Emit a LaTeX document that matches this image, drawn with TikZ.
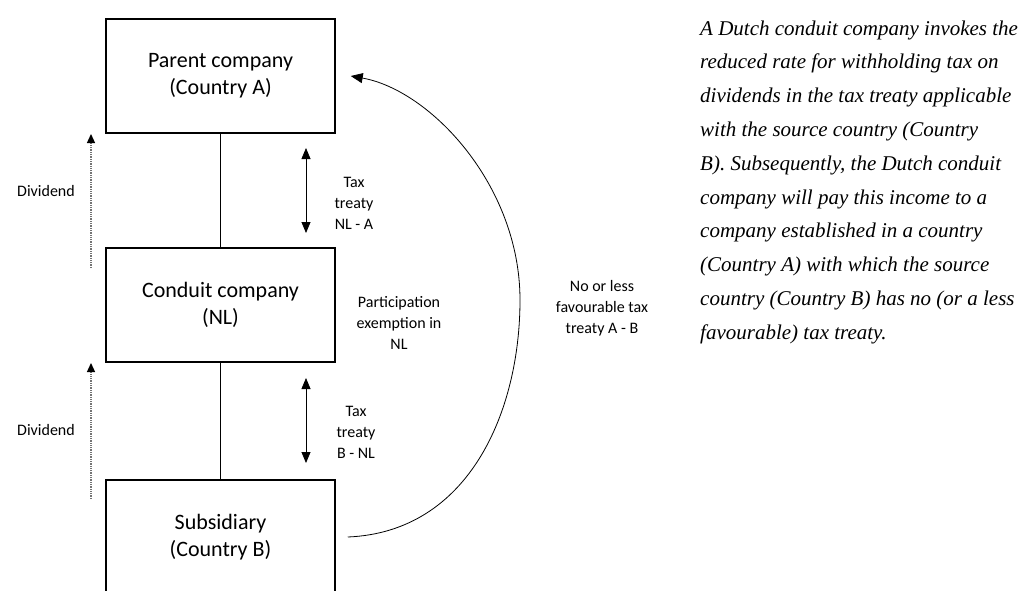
\documentclass[tikz,border=0pt]{standalone}
\usepackage{fontspec}
\setmainfont{Carlito}
\newfontfamily\notefont{Liberation Serif}
\usetikzlibrary{arrows.meta}
\begin{document}
\begin{tikzpicture}[x=1pt,y=-1pt,
  entity/.style={draw,line width=1.5pt,minimum width=229pt,minimum height=114pt,
    align=center,inner sep=0pt,font=\fontsize{22}{27}\selectfont},
  smalltext/.style={align=center,inner sep=0pt,font=\fontsize{16}{21}\selectfont},
  link/.style={line width=0.8pt},
  treaty/.style={line width=0.8pt,{Triangle[length=11pt,width=9pt]}-{Triangle[length=11pt,width=9pt]}},
  flow/.style={draw=black!55,densely dotted,line width=1.3pt,-{Triangle[length=9pt,width=8pt,color=black]}},
  detour/.style={line width=0.8pt,-{Triangle[length=12pt,width=10pt]}}
]
\useasboundingbox (0,0) rectangle (1021,590);
\clip (0,0) rectangle (1021,590);

% the three companies in the chain
\node[entity] (parent)  at (220.5,76)  {Parent company\\(Country A)};
\node[entity] (conduit) at (220.5,305) {Conduit company\\(NL)};
\node[entity] (sub)     at (220.5,537) {Subsidiary\\(Country B)};

% ownership links
\draw[link] (parent) -- (conduit);
\draw[link] (conduit) -- (sub);

% treaty arrows between neighbouring companies
\coordinate (ta1) at (306,148);
\coordinate (ta2) at (306,233);
\coordinate (tb1) at (306,378);
\coordinate (tb2) at (306,463);
\draw[treaty] (ta1) -- (ta2);
\draw[treaty] (tb1) -- (tb2);
\node[smalltext] (tt1) at (354,203) {Tax\\treaty\\NL - A};
\node[smalltext] (tt2) at (356,432) {Tax\\treaty\\B - NL};

% dividend flows
\coordinate (da1) at (91,268);
\coordinate (da2) at (91,134);
\coordinate (db1) at (91,499);
\coordinate (db2) at (91,363);
\draw[flow] (da1) -- (da2);
\draw[flow] (db1) -- (db2);
\node[smalltext] (div1) at (46,191) {Dividend};
\node[smalltext] (div2) at (46,430) {Dividend};

\node[smalltext] (pe) at (399,323) {Participation\\exemption in\\NL};

% direct route from subsidiary to parent
\draw[detour] ([xshift=12pt]sub.east) .. controls (470,532) and (520,410) .. (520,300)
  .. controls (520,185) and (430,90) .. ([xshift=15pt]parent.east);
\node[smalltext] (ab) at (602,308) {No or less\\favourable tax\\treaty A - B};

% explanatory note
\node[anchor=base west,inner sep=0pt] (explain) at (700,35) {\parbox[t]{320pt}{%
  \notefont\itshape\fontsize{21}{33.8}\selectfont\raggedright
  A Dutch conduit company invokes the\\
  reduced rate for withholding tax on\\
  dividends in the tax treaty applicable\\
  with the source country (Country\\
  B). Subsequently, the Dutch conduit\\
  company will pay this income to a\\
  company established in a country\\
  (Country A) with which the source\\
  country (Country B) has no (or a less\\
  favourable) tax treaty.}};
\end{tikzpicture}
\end{document}
